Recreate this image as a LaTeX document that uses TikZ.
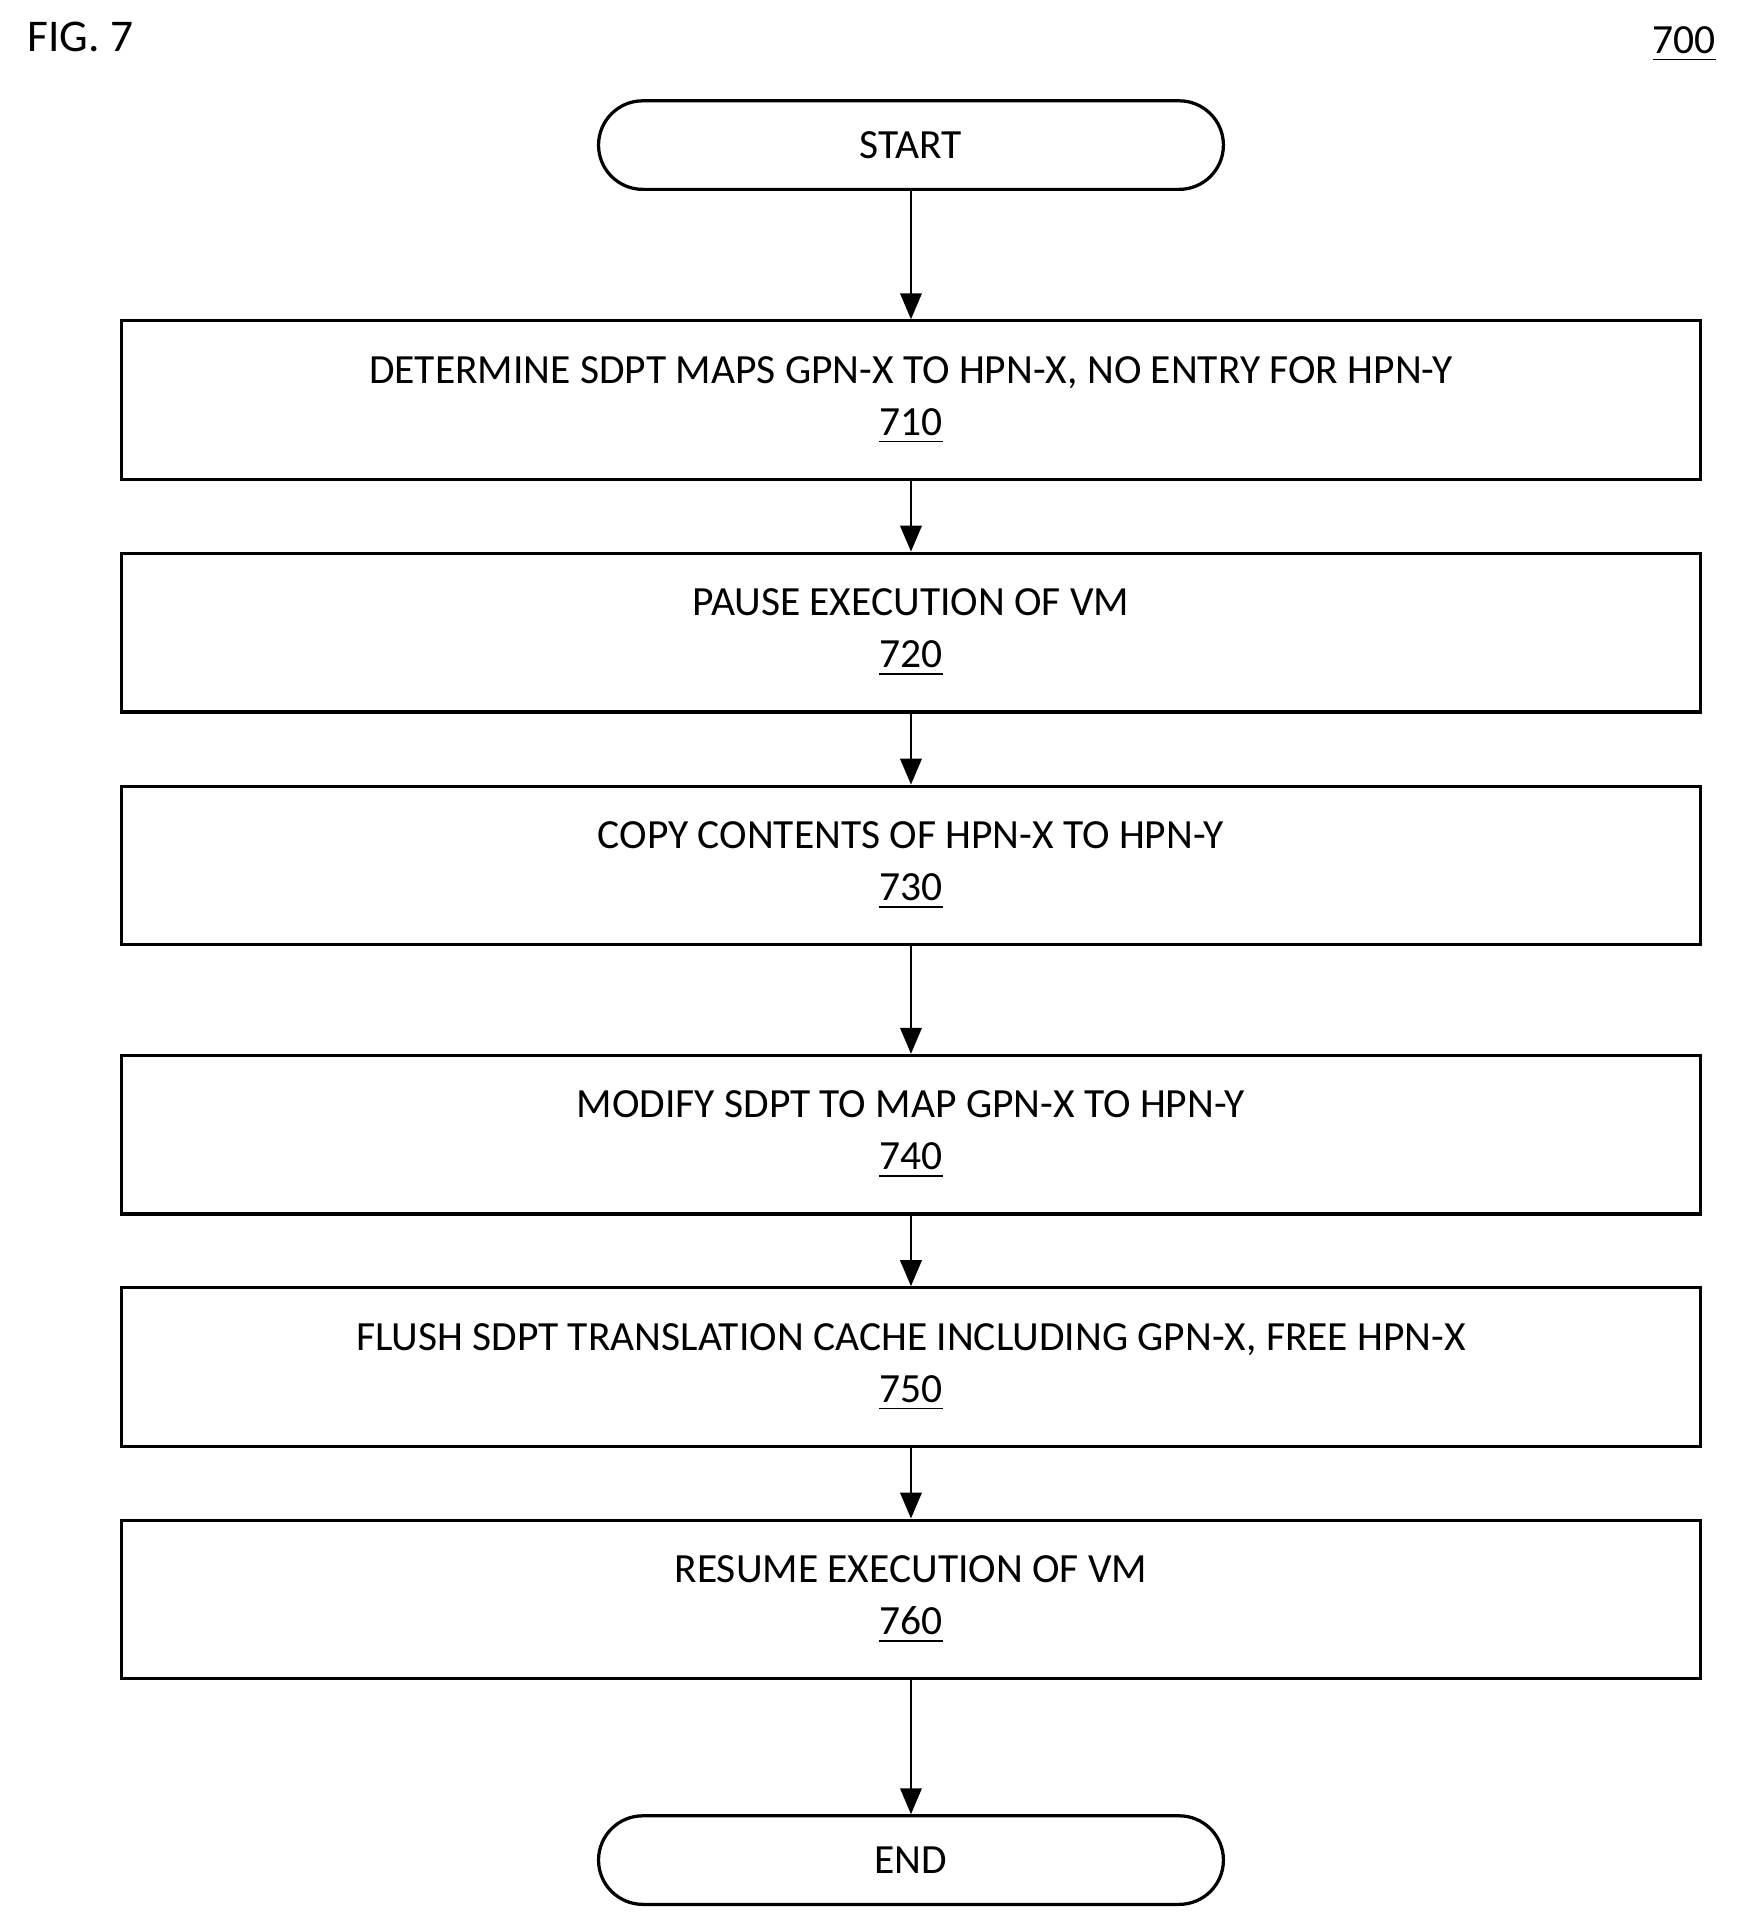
\documentclass[tikz,border=0pt]{standalone}
\usepackage{fontspec}
\setmainfont{Carlito}
\usetikzlibrary{arrows.meta}
\begin{document}
\begin{tikzpicture}[x=0.01cm,y=-0.01cm,
  box/.style={draw,line width=0.75pt,minimum width=12.84cm,minimum height=1.29cm,align=center,font=\fontsize{9.6}{12}\selectfont,inner sep=0pt},
  term/.style={draw,line width=0.75pt,rounded corners=0.36cm,minimum width=5.08cm,minimum height=0.72cm,font=\fontsize{9.6}{12}\selectfont},
  arr/.style={-{Triangle[length=6pt,width=5pt]},line width=0.4pt}]
\useasboundingbox (0,0) rectangle (1420,1565);
\node[anchor=west,font=\fontsize{10.5}{12}\selectfont] (fig) at (10,30) {FIG. 7};
\node[anchor=east,font=\fontsize{9.6}{12}\selectfont] (num) at (1408,36) {\underline{700}};
\node[term] (s) at (741,118) {START};
\node[box] (b1) at (741,325.5) {DETERMINE SDPT MAPS GPN-X TO HPN-X, NO ENTRY FOR HPN-Y\\\underline{710}};
\node[box] (b2) at (741,514.5) {PAUSE EXECUTION OF VM\\\underline{720}};
\node[box] (b3) at (741,704) {COPY CONTENTS OF HPN-X TO HPN-Y\\\underline{730}};
\node[box] (b4) at (741,923) {MODIFY SDPT TO MAP GPN-X TO HPN-Y\\\underline{740}};
\node[box] (b5) at (741,1112) {FLUSH SDPT TRANSLATION CACHE INCLUDING GPN-X, FREE HPN-X\\\underline{750}};
\node[box] (b6) at (741,1301) {RESUME EXECUTION OF VM\\\underline{760}};
\node[term] (e) at (741,1513) {END};
\draw[arr] (s) -- (b1);
\draw[arr] (b1) -- (b2);
\draw[arr] (b2) -- (b3);
\draw[arr] (b3) -- (b4);
\draw[arr] (b4) -- (b5);
\draw[arr] (b5) -- (b6);
\draw[arr] (b6) -- (e);
\end{tikzpicture}
\end{document}
